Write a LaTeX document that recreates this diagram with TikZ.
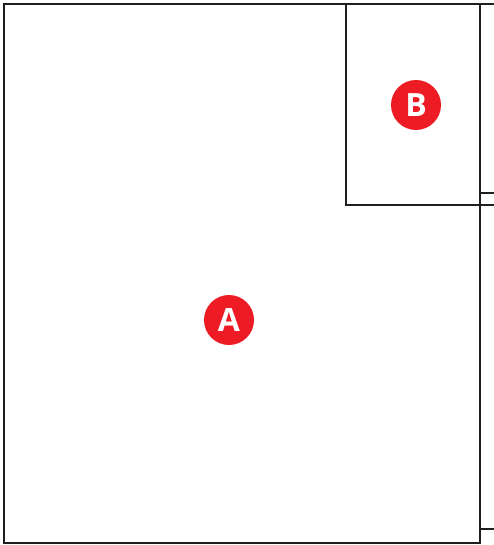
\documentclass[tikz,border=0pt]{standalone}
\usepackage{fontspec}
\setmainfont{Open Sans}
\usepackage{tikz}
\usetikzlibrary{calc,positioning}
\definecolor{myred}{RGB}{237,28,36}
\definecolor{myline}{RGB}{30,30,30}

\begin{document}
\begin{tikzpicture}[x=1pt,y=-1pt,
  wall/.style={draw=myline, line width=1.1pt},
  badge/.style={circle, fill=myred, minimum size=50pt, inner sep=0pt, text=white, font=\fontsize{32}{32}\selectfont\bfseries}]
  \useasboundingbox (0,0) rectangle (494,545);

  % outer frame
  \draw[wall] (480,4) -- (4,4) -- (4,543) -- (480,543) -- cycle;
  \draw[wall] (480,4) -- (494,4);
  % room B
  \draw[wall] (346,4) -- (346,205) -- (494,205);
  % ticks on the right
  \draw[wall] (480,193) -- (494,193);
  \draw[wall] (480,529) -- (494,529);

  % labels
  \node[badge] (circA) at (229,320) {A};
  \node[badge] (circB) at (416,105) {B};
\end{tikzpicture}
\end{document}
